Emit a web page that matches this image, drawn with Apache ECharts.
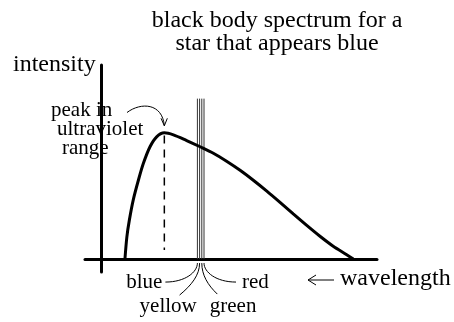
<!DOCTYPE html>
<html>
<head>
<meta charset="utf-8">
<script src="https://cdn.jsdelivr.net/npm/echarts@6/dist/echarts.min.js"></script>
<style>
  html, body { margin: 0; padding: 0; background: #fff; }
  #chart { width: 454px; height: 322px; }
</style>
</head>
<body>
<div id="chart"></div>
<script>
// Black body emission curve, arbitrary wavelength / intensity units
const wavelength = [8.5, 9.2, 10.1, 11.5, 13.4, 15.2, 17.6, 20.0, 22.8, 26.1, 30.9, 35.8,
                    40.6, 45.4, 50.3, 55.1, 60.0, 64.8, 69.6, 74.5, 79.3, 84.1, 89.0, 91.4];
const intensity  = [0, 17.2, 30.1, 45.6, 61.1, 74.0, 86.8, 94.5, 97.6, 96.0, 91.6, 86.8,
                    81.8, 75.6, 68.6, 60.9, 52.5, 43.8, 34.9, 26.0, 17.6, 9.9, 3.4, 0];

// Visible band: one thin line per colour
const bandNames = ['blue', 'yellow', 'green', 'red'];
const bandWavelength = [34.8, 35.6, 36.4, 37.2];
const bandTop = [124, 124, 124, 124];

// Dashed drop line from the peak
const peakDropBottom = 7;

// Axis extents
const xRange = [-6, 100];
const yRange = [-10, 150];

const FONT = "'Liberation Serif', 'Times New Roman', serif";

// Peak of the curve, taken from the data
let peakIdx = 0;
intensity.forEach((v, i) => { if (v > intensity[peakIdx]) peakIdx = i; });
const peakX = wavelength[peakIdx];
const peakY = intensity[peakIdx];

const chart = echarts.init(document.getElementById('chart'), null, { renderer: 'canvas' });

const axisCommon = {
  type: 'value',
  axisLine: { show: true, onZero: true, lineStyle: { color: '#000', width: 3 } },
  axisTick: { show: false },
  axisLabel: { show: false },
  splitLine: { show: false }
};

const series = [
  {
    name: 'spectrum',
    type: 'line',
    data: wavelength.map((w, i) => [w, intensity[i]]),
    smooth: 0.3,
    showSymbol: false,
    lineStyle: { color: '#000', width: 3 },
    z: 5
  },
  {
    name: 'peak',
    type: 'line',
    data: [[peakX, peakY - 2], [peakX, peakDropBottom]],
    showSymbol: false,
    lineStyle: { color: '#000', width: 1.5, type: [8, 6] },
    z: 4
  }
];
bandWavelength.forEach((w, i) => {
  series.push({
    name: bandNames[i],
    type: 'line',
    data: [[w, 0], [w, bandTop[i]]],
    showSymbol: false,
    lineStyle: { color: '#333', width: 1 },
    z: 3
  });
});

chart.setOption({
  animation: false,
  backgroundColor: '#fff',
  title: {
    text: 'black body spectrum for a\nstar that appears blue',
    left: 272,
    top: 4,
    textAlign: 'center',
    textStyle: { fontFamily: FONT, fontSize: 24, fontWeight: 'normal', color: '#000', lineHeight: 23 }
  },
  grid: { left: 85, right: 77, top: 65, bottom: 50, containLabel: false, outerBoundsMode: 'none' },
  xAxis: Object.assign({}, axisCommon, { min: xRange[0], max: xRange[1] }),
  yAxis: Object.assign({}, axisCommon, { min: yRange[0], max: yRange[1] }),
  series: series
});

// Annotations placed relative to the axes
function label(x, baseline, str, size, align) {
  return {
    type: 'text',
    x: x,
    y: baseline - size * 0.34,
    silent: true,
    style: {
      text: str,
      fontFamily: FONT,
      fontSize: size,
      fill: '#000',
      align: align || 'left',
      verticalAlign: 'middle'
    }
  };
}
function stroke(shapeType, shape, width) {
  return { type: shapeType, shape: shape, silent: true,
           style: { stroke: '#000', fill: null, lineWidth: width || 1 } };
}

const px = (pt) => chart.convertToPixel({ gridIndex: 0 }, pt);
const origin = px([0, 0]);
const peakPx = px([peakX, peakY]);

const graphics = [
  label(13, 73, 'intensity', 24),
  label(51, 118, 'peak in', 21),
  label(57, 137, 'ultraviolet', 21),
  label(62, 156, 'range', 21),
  label(340, 287, 'wavelength', 24),
  // arrow pointing along the wavelength axis
  stroke('line', { x1: 308, y1: 280, x2: 334, y2: 280 }, 1),
  stroke('polyline', { points: [[316, 275], [308, 280], [316, 285]] }, 1),
  // curved pointer to the peak
  stroke('bezierCurve', {
    x1: 127, y1: 112.5,
    cpx1: 141, cpy1: 102, cpx2: peakPx[0] - 2, cpy2: 103,
    x2: peakPx[0], y2: peakPx[1] - 7
  }, 1),
  stroke('polyline', { points: [[peakPx[0] - 3.3, peakPx[1] - 14.5], [peakPx[0], peakPx[1] - 7], [peakPx[0] + 3, peakPx[1] - 14.5]] }, 1)
];

// Leader lines from each band line down to its colour name
const leaders = {
  blue:   { end: [-32, 19],  c1: [0, 9],  c2: [-12, 19], text: [-35, 27], align: 'right' },
  yellow: { end: [-20, 32],  c1: [0, 12], c2: [-8, 22],  text: [-60, 51], align: 'left' },
  green:  { end: [15.5, 31], c1: [0, 12], c2: [6, 22],   text: [8, 51],   align: 'left' },
  red:    { end: [32, 19],   c1: [0, 9],  c2: [12, 19],  text: [38, 27],  align: 'left' }
};
bandWavelength.forEach((w, i) => {
  const name = bandNames[i];
  const L = leaders[name];
  const a = px([w, 0]);
  const ax = a[0], ay = origin[1] + 4;
  graphics.push(stroke('bezierCurve', {
    x1: ax, y1: ay,
    cpx1: ax + L.c1[0], cpy1: ay + L.c1[1],
    cpx2: ax + L.c2[0], cpy2: ay + L.c2[1],
    x2: ax + L.end[0], y2: ay + L.end[1]
  }, 1));
  graphics.push(label(ax + L.text[0], ay + L.text[1], name, 21, L.align));
});

chart.setOption({ graphic: graphics });
</script>
</body>
</html>
